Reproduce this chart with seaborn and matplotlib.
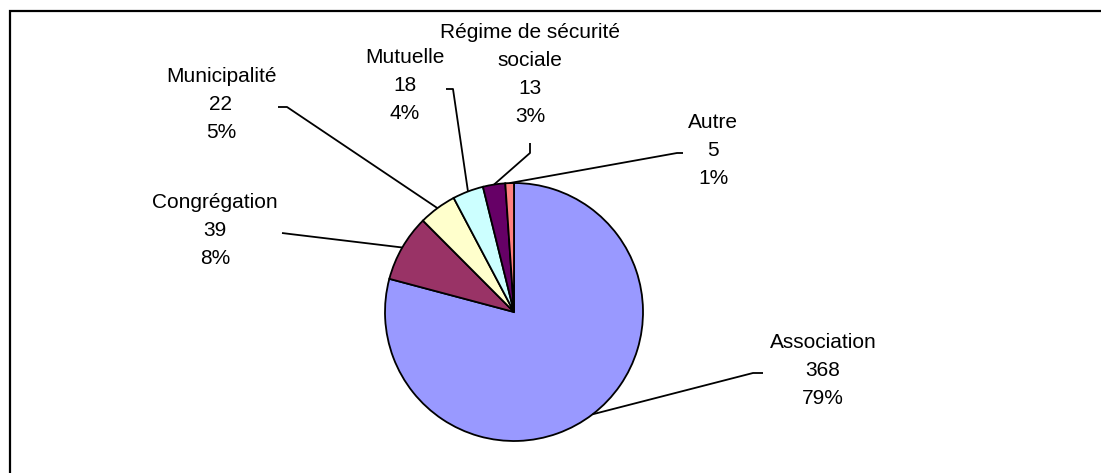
import matplotlib
matplotlib.use("Agg")
import numpy as np
import matplotlib.pyplot as plt
import seaborn as sns

# data (clockwise from 12 o'clock)
categories = ["Association", "Congrégation", "Municipalité", "Mutuelle",
              "Régime de sécurité\nsociale", "Autre"]
counts = [368, 39, 22, 18, 13, 5]
colors = ["#9999FF", "#993366", "#FFFFCC", "#CCFFFF", "#660066", "#FF8080"]

sns.set_theme(style="white")
plt.rcParams["font.family"] = ["Liberation Sans", "DejaVu Sans"]

W, H = 1101, 473
fig = plt.figure(figsize=(W / 100, H / 100), dpi=100)
ax = fig.add_axes([0, 0, 1, 1])

cx, cy, r = 514, H - 312, 129
wedges, _ = ax.pie(counts, colors=sns.color_palette(colors), startangle=90,
                   counterclock=False, center=(cx, cy), radius=r, frame=True,
                   wedgeprops=dict(edgecolor="black", linewidth=1.3))
ax.set_xlim(0, W)
ax.set_ylim(0, H)
ax.set_aspect("auto")
ax.axis("off")

# label layout in pixel coords: text centre, leader stub end, elbow
layout = [
    ((823, 370), (763, 373), (753, 373)),
    ((215, 230), (282, 233), (290, 234)),
    ((221, 105), (278, 107), (287, 107)),
    ((405, 86), (446, 89), (453, 89)),
    ((530, 75), (530, 143), (530, 153)),
    ((713, 151), (683, 153), (677, 153)),
]

total = sum(counts)
for w, name, n, (txt, stub, elbow) in zip(wedges, categories, counts, layout):
    mid = np.deg2rad((w.theta1 + w.theta2) / 2)
    ax_, ay_ = cx + r * np.cos(mid), cy + r * np.sin(mid)
    ax.plot([ax_, elbow[0], stub[0]], [ay_, H - elbow[1], H - stub[1]],
            color="black", lw=1.3, solid_capstyle="butt")
    pct = round(100 * n / total)
    ax.text(txt[0], H - txt[1], f"{name}\n{n}\n{pct}%", ha="center", va="center",
            fontsize=15, linespacing=1.6, color="black")

# chart area border (only top/left edges fall inside the picture)
ax.plot([10, 10, W + 20], [-20, H - 11, H - 11], color="black", lw=1.6,
        clip_on=False, solid_joinstyle="miter", solid_capstyle="butt")

fig.savefig("out.png", dpi=100, facecolor="white")
